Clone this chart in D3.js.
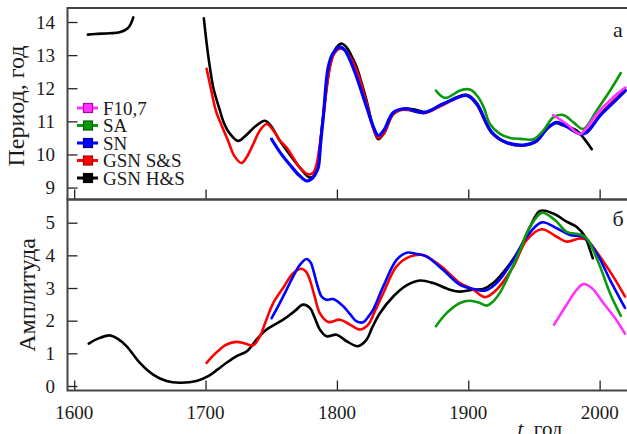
<!DOCTYPE html>
<html>
<head>
<meta charset="utf-8">
<script src="https://cdn.jsdelivr.net/npm/d3@7"></script>
<style>
  html, body { margin: 0; padding: 0; background: #fff; }
  svg { display: block; }
  text { font-family: "Liberation Serif", "Times New Roman", serif; fill: #1a1a1a; }
</style>
</head>
<body>
<svg id="chart" width="627" height="434"></svg>
<script>
// ---- Data: [year, value] pairs ----
// Panel а: period of the solar cycle, years
const periodHS_early = [[1610.4,13.62],[1616,13.64],[1627,13.66],[1634.7,13.69],[1640.8,13.81],[1643.5,13.98],[1645,14.14]];
const periodHS = [[1698.7,14.11],[1701,13.3],[1703.3,12.63],[1706,12.0],[1710.9,11.33],[1714,10.95],[1718.5,10.63],[1724.8,10.41],[1730,10.55],[1738,10.85],[1745.2,11.02],[1750,10.85],[1756.6,10.41],[1764,10.0],[1771.8,9.6],[1779.4,9.3],[1783,9.38],[1785.8,9.71],[1788,10.6],[1790.9,11.63],[1793.5,12.4],[1796,12.9],[1800,13.25],[1803.6,13.35],[1808,13.2],[1812,12.9],[1815,12.64],[1818.5,12.2],[1822.6,11.63],[1827.6,10.82],[1831.5,10.46],[1836,10.65],[1842.9,11.22],[1850.5,11.38],[1860,11.35],[1868,11.28],[1881,11.53],[1898.8,11.8],[1906.4,11.55],[1917.8,10.68],[1929.2,10.35],[1943.2,10.28],[1952.1,10.4],[1959.7,10.77],[1966,10.95],[1972,10.88],[1977,10.82],[1982.6,10.72],[1987.6,10.51],[1994,10.16]];
const periodSS = [[1700.8,12.59],[1704,12.0],[1708,11.3],[1712,10.9],[1717.2,10.41],[1722,9.95],[1727.4,9.74],[1731,9.9],[1736.3,10.31],[1741,10.7],[1746.5,10.92],[1752,10.7],[1756,10.45],[1761.7,10.21],[1766,9.95],[1771.8,9.6],[1778.1,9.4],[1782,9.45],[1784.5,9.7],[1787,10.3],[1789.6,11.12],[1794.7,12.64],[1798,13.05],[1802.3,13.2],[1806,13.15],[1810,12.95],[1815,12.55],[1822.6,11.55],[1827.6,10.8],[1831.5,10.5],[1836,10.65],[1842.9,11.22],[1850.5,11.35],[1860,11.3],[1867,11.25],[1881,11.5],[1898.8,11.78],[1906.4,11.5],[1917.8,10.65],[1929.2,10.35],[1943.2,10.28],[1952.1,10.42],[1959.7,10.78],[1967.3,10.97],[1974.9,10.84],[1985.1,10.62],[1990.2,10.7],[2000.3,11.2],[2010,11.6],[2019.5,11.95]];
const periodSN = [[1750.3,10.46],[1757,10.05],[1764,9.7],[1771,9.38],[1776.9,9.2],[1781,9.27],[1783.5,9.4],[1785.8,9.6],[1787.5,10.3],[1789.6,11.12],[1793.4,12.64],[1797,13.05],[1802.3,13.25],[1806,13.15],[1810,12.85],[1815,12.34],[1822.6,11.43],[1827.6,10.85],[1831.5,10.57],[1836,10.75],[1842.9,11.27],[1853,11.38],[1860,11.3],[1867,11.27],[1881,11.53],[1898.8,11.78],[1906.4,11.53],[1917.8,10.67],[1929.2,10.36],[1943.2,10.29],[1952.1,10.41],[1959.7,10.77],[1967.3,10.97],[1974.9,10.84],[1985.1,10.62],[1990.2,10.67],[2000.3,11.17],[2010,11.55],[2019.6,11.93]];
const periodSA = [[1875.4,11.93],[1880,11.75],[1883.5,11.71],[1888,11.8],[1893.7,11.93],[1901.3,11.96],[1907.6,11.73],[1912,11.4],[1916.5,10.92],[1924.1,10.62],[1931.8,10.5],[1940,10.47],[1949.5,10.46],[1957.1,10.72],[1964.7,11.12],[1972.4,11.19],[1980,10.97],[1987.6,10.77],[1997.8,11.33],[2008,11.93],[2016.1,12.46]];
const periodF107 = [[1964.7,11.19],[1970,11.05],[1974.9,10.92],[1985.1,10.62],[1990,10.8],[1997.8,11.22],[2010.4,11.73],[2019.6,12.02]];

// Panel б: amplitude
const ampHS = [[1611.1,1.3],[1618,1.45],[1627.1,1.55],[1633,1.45],[1639.8,1.22],[1650,0.71],[1660.1,0.35],[1670.3,0.15],[1680.4,0.1],[1693.1,0.15],[1702,0.3],[1709,0.5],[1716,0.71],[1724,0.92],[1732,1.08],[1738.8,1.42],[1746.5,1.73],[1759.1,2.03],[1768,2.3],[1774.3,2.49],[1779.4,2.39],[1783,2.1],[1787,1.73],[1792.2,1.52],[1799.8,1.57],[1807.4,1.37],[1816.2,1.22],[1822.6,1.42],[1827,1.8],[1832.7,2.23],[1842.9,2.74],[1853,3.08],[1863.2,3.23],[1873.3,3.15],[1886,2.95],[1893.7,2.89],[1903.8,2.95],[1911.4,2.97],[1919,3.15],[1929.2,3.61],[1939.4,4.22],[1947,4.87],[1954.6,5.36],[1964.7,5.28],[1974.9,5.03],[1982.6,4.87],[1988.9,4.57],[1992.7,4.16],[1994.8,3.91]];
const ampSS = [[1700.8,0.71],[1705,0.9],[1710.9,1.12],[1716,1.27],[1723.6,1.35],[1730,1.3],[1736.3,1.25],[1741.4,1.52],[1746,2.0],[1751.5,2.54],[1759,3.0],[1766.7,3.45],[1773.1,3.59],[1776.5,3.5],[1779.4,3.25],[1783,2.75],[1787,2.23],[1793.4,1.96],[1802.3,2.03],[1809.9,1.88],[1817.5,1.73],[1823.8,1.88],[1829,2.3],[1835.3,2.84],[1845.4,3.66],[1855.6,3.96],[1865.7,4.01],[1873,3.85],[1881,3.61],[1893.7,3.15],[1903.8,2.95],[1912.7,2.72],[1921.6,2.95],[1934.3,3.66],[1944.5,4.47],[1955.9,4.8],[1967.3,4.57],[1974.9,4.42],[1985.1,4.52],[1990.2,4.47],[2000.3,3.96],[2010.4,3.35],[2019.3,2.74]];
const ampSN = [[1750.3,2.08],[1756,2.5],[1761.7,2.95],[1766,3.3],[1771.8,3.71],[1776.9,3.89],[1780,3.78],[1782,3.55],[1785,3.1],[1788.3,2.74],[1792,2.64],[1797.2,2.66],[1804.8,2.44],[1810,2.2],[1815,1.98],[1820,1.95],[1823.5,2.1],[1827.6,2.34],[1835.3,3.05],[1845.4,3.86],[1853,4.08],[1860,4.05],[1868.3,3.96],[1881,3.55],[1893.7,3.1],[1906.4,2.95],[1912.7,2.92],[1921.6,3.15],[1934.3,3.86],[1944.5,4.57],[1955.9,5.01],[1967.3,4.83],[1977.5,4.62],[1987.6,4.57],[1997.8,4.06],[2007.9,3.25],[2019.3,2.39]];
const ampSA = [[1875.4,1.83],[1883.5,2.23],[1893.7,2.54],[1901.3,2.61],[1908.9,2.54],[1914,2.46],[1919,2.59],[1924,2.85],[1929.2,3.25],[1939.4,4.16],[1947,4.87],[1955.9,5.3],[1966,5.08],[1974.9,4.72],[1985.1,4.64],[1990.2,4.52],[2000.3,3.66],[2007.9,2.84],[2016.1,2.15]];
const ampF107 = [[1965.3,1.88],[1974.9,2.49],[1982.6,2.95],[1987.6,3.12],[1994,3.0],[2002.8,2.54],[2011.7,2.08],[2019.3,1.6]];

// Axis ticks and labels
const yearTicks = [1600, 1700, 1800, 1900, 2000];
const periodTicks = [9, 10, 11, 12, 13, 14];
const ampTicks = [0, 1, 2, 3, 4, 5];
const seriesNames = ["F10,7", "SA", "SN", "GSN S&S", "GSN H&S"];
const seriesColors = ["#ff33ff", "#0a9a0a", "#0000ff", "#ff0000", "#000000"];
const markerStroke = ["#b000b0", "#006000", "#00008a", "#a00000", "#000000"];

// ---- Layout ----
const svg = d3.select("#chart");
const left = 67.5, right = 628;
const topPanel = { y0: 8, y1: 199.5 };
const botPanel = { y0: 199.5, y1: 390.5 };

const x = d3.scaleLinear().domain([1594.9, 2021.6]).range([left, right]);
const yTop = d3.scaleLinear().domain([8.64, 14.423]).range([topPanel.y1, topPanel.y0]);
const yBot = d3.scaleLinear().domain([-0.138, 5.71]).range([botPanel.y1, botPanel.y0]);

const clip = svg.append("defs");
clip.append("clipPath").attr("id", "clipTop").append("rect")
  .attr("x", left).attr("y", topPanel.y0).attr("width", right - left).attr("height", topPanel.y1 - topPanel.y0);
clip.append("clipPath").attr("id", "clipBot").append("rect")
  .attr("x", left).attr("y", botPanel.y0).attr("width", right - left).attr("height", botPanel.y1 - botPanel.y0);

function drawLines(g, y, series) {
  const line = d3.line().x(d => x(d[0])).y(d => y(d[1])).curve(d3.curveCatmullRom.alpha(0.5));
  series.forEach(s => {
    g.append("path").datum(s.data)
      .attr("d", line)
      .attr("fill", "none")
      .attr("stroke", s.color)
      .attr("stroke-width", s.width || 2.6)
      .attr("stroke-linejoin", "round")
      .attr("stroke-linecap", "round");
  });
}

function drawAxes(panel, y, ticks) {
  const g = svg.append("g");
  // y ticks (inside, left)
  const yAxis = d3.axisRight(y).tickValues(ticks).tickSize(10).tickFormat("");
  g.append("g").attr("transform", `translate(${left},0)`).call(yAxis)
    .call(a => a.select(".domain").remove())
    .call(a => a.selectAll("line").attr("stroke", "#222").attr("stroke-width", 1.3));
  // y tick labels
  g.selectAll("text.ylab").data(ticks).enter().append("text")
    .attr("x", 55).attr("y", d => y(d)).attr("dy", "0.35em")
    .attr("text-anchor", "end").attr("font-size", 19).text(d => d);
  // x ticks (inside, bottom)
  const xAxis = d3.axisTop(x).tickValues(yearTicks).tickSize(10).tickFormat("");
  g.append("g").attr("transform", `translate(0,${panel.y1})`).call(xAxis)
    .call(a => a.select(".domain").remove())
    .call(a => a.selectAll("line").attr("stroke", "#222").attr("stroke-width", 1.3));
}

// Panel а
const gTop = svg.append("g").attr("clip-path", "url(#clipTop)");
drawLines(gTop, yTop, [
  { data: periodHS_early, color: seriesColors[4] },
  { data: periodHS, color: seriesColors[4] },
  { data: periodSS, color: seriesColors[3] },
  { data: periodSN, color: seriesColors[2], width: 3.2 },
  { data: periodSA, color: seriesColors[1] },
  { data: periodF107, color: seriesColors[0] }
]);
drawAxes(topPanel, yTop, periodTicks);

// Panel б
const gBot = svg.append("g").attr("clip-path", "url(#clipBot)");
drawLines(gBot, yBot, [
  { data: ampHS, color: seriesColors[4] },
  { data: ampSS, color: seriesColors[3] },
  { data: ampSN, color: seriesColors[2] },
  { data: ampSA, color: seriesColors[1] },
  { data: ampF107, color: seriesColors[0] }
]);
drawAxes(botPanel, yBot, ampTicks);

// Frames
[topPanel, botPanel].forEach(p => {
  svg.append("rect")
    .attr("x", left).attr("y", p.y0).attr("width", right - left).attr("height", p.y1 - p.y0)
    .attr("fill", "none").attr("stroke", "#444").attr("stroke-width", 2);
});

// x tick labels
svg.selectAll("text.xlab").data(yearTicks).enter().append("text")
  .attr("x", d => x(d)).attr("y", 419)
  .attr("text-anchor", "middle").attr("font-size", 19).text(d => d);

// Axis titles
svg.append("text")
  .attr("transform", "translate(23.5,106) rotate(-90)")
  .attr("text-anchor", "middle").attr("font-size", 24).text("Период, год");
svg.append("text")
  .attr("transform", "translate(35,295) rotate(-90)")
  .attr("text-anchor", "middle").attr("font-size", 24).text("Амплитуда");
const xt = svg.append("text").attr("x", 540).attr("y", 436).attr("text-anchor", "middle").attr("font-size", 21);
xt.append("tspan").attr("font-style", "italic").text("t");
xt.append("tspan").text(", год");

// Panel letters
svg.append("text").attr("x", 618).attr("y", 37).attr("text-anchor", "middle").attr("font-size", 22).text("а");
svg.append("text").attr("x", 618).attr("y", 226).attr("text-anchor", "middle").attr("font-size", 22).text("б");

// Legend
const legend = svg.append("g");
const rowY = d3.scalePoint().domain(seriesNames).range([108, 178]);
seriesNames.forEach((name, i) => {
  const yy = rowY(name);
  legend.append("line").attr("x1", 77).attr("x2", 98).attr("y1", yy).attr("y2", yy)
    .attr("stroke", seriesColors[i]).attr("stroke-width", 3);
  legend.append("rect").attr("x", 83.5).attr("y", yy - 4.5).attr("width", 9).attr("height", 9)
    .attr("fill", seriesColors[i]).attr("stroke", markerStroke[i]).attr("stroke-width", 1.2);
  legend.append("text").attr("x", 103).attr("y", yy).attr("dy", "0.35em")
    .attr("font-size", 19).text(name);
});
</script>
</body>
</html>
